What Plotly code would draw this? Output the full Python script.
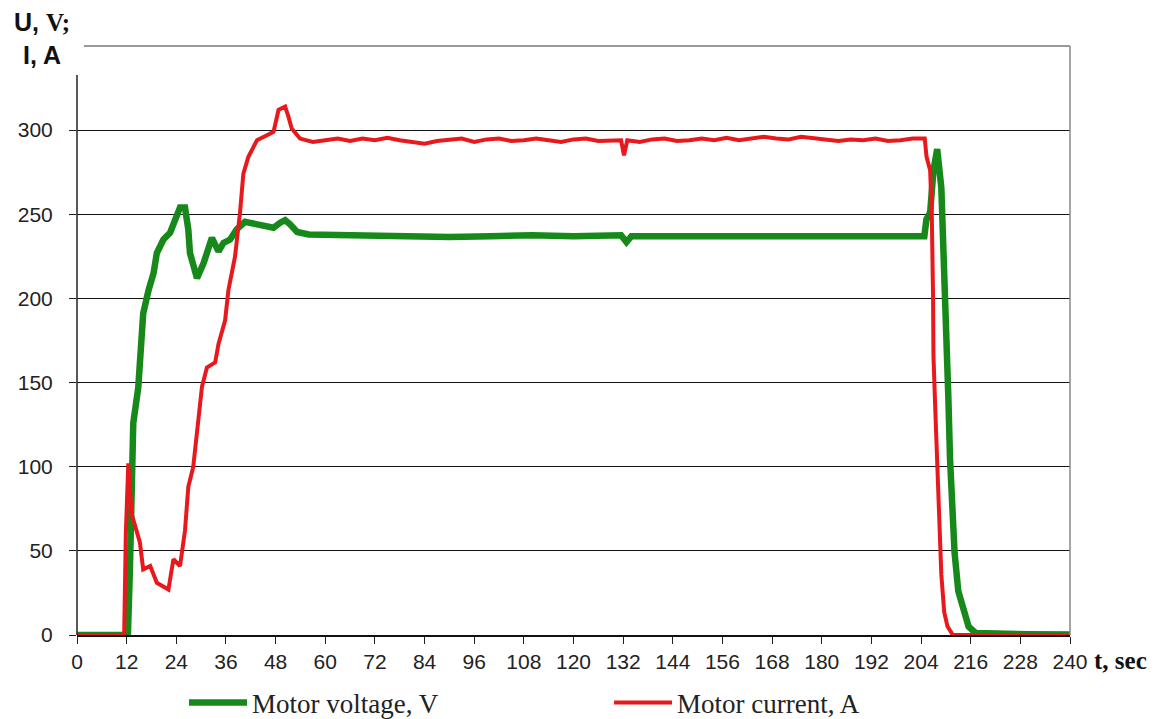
import plotly.graph_objects as go

# ---- data ----
t_voltage = [0, 12.3, 12.8, 13.6, 14.8, 15.6, 16.0, 17.3, 18.5, 19.3, 20.9, 22.5, 23.7, 24.9, 26.1,
             26.9, 27.3, 29.0, 30.6, 32.6, 34.2, 35.4, 37.0, 38.6, 40.6, 43, 45, 47.5, 49.1, 50.3,
             51.5, 53.2, 56, 61.2, 70, 80, 90, 100, 110, 120, 128, 131.5, 132.8, 134, 140, 150,
             160, 170, 180, 190, 200, 204.8, 205.3, 206.2, 207.0, 207.9, 208.9, 209.4, 209.8,
             210.3, 210.6, 211.0, 211.7, 212.1, 213.0, 214.0, 215.5, 217.2, 222, 230, 240]
voltage = [0, 0, 40, 126, 147, 171, 191, 205, 215, 227, 235, 239, 248, 254, 254,
           241, 227, 212, 221, 236, 228, 233, 235, 241, 245.5, 244, 243, 242, 245, 246.5,
           244, 239.5, 238, 237.7, 237.5, 237, 236.5, 237, 237.5, 237, 237.5, 237.5, 233.5, 237, 237, 237,
           237.5, 237, 237, 237, 237, 237, 247, 251, 276, 288.7, 265.8, 234.7, 203,
           172, 141, 105, 68, 49, 26, 18, 5, 1.2, 0.8, 0.5, 0.3]

t_current = [0, 11.4, 11.8, 12.4, 13.2, 14.4, 15.2, 16.0, 17.7, 19.3, 22.1, 23.3, 24.9, 26.1,
             26.9, 28.1, 29.0, 30.2, 31.4, 33.4, 34.2, 35.8, 36.6, 38.2, 39.4, 40.2, 41.4, 43.5,
             45.9, 47.5, 48.7, 50.3, 51.1, 51.9, 53.9,
             57, 60, 63, 66, 69, 72, 75, 78, 81, 84, 87, 90, 93, 96, 99, 102, 105, 108, 111,
             114, 117, 120, 123, 126, 129, 131.5, 132.2, 133, 136, 139, 142, 145, 148, 151,
             154, 157, 160, 163, 166, 169, 172, 175, 178, 181, 184, 187, 190, 193, 196, 199,
             202, 204.9, 205.3, 206.2, 206.6, 206.9, 207.0, 207.5, 207.9, 208.3, 208.9, 209.6,
             210.4, 211.7, 240]
current = [0, 0, 60, 102, 72, 62, 55, 39, 41, 31, 27, 45, 41, 62,
           88, 100, 122, 147.5, 159, 162, 173, 187, 205, 225, 251, 274, 284, 294,
           297, 299, 312, 314, 308, 301, 295,
           293, 294, 295, 293.5, 295, 294, 295.5, 294, 293, 292, 293.5, 294, 295, 293, 294.5,
           295, 293.5, 294, 295, 294, 293, 294.5, 295, 293.5, 294, 294, 285, 294, 293, 294.5,
           295, 293.5, 294, 295, 294, 295.5, 294, 295, 296, 295, 294.5, 296, 295, 294, 293.5,
           294.5, 294, 295, 293.5, 294, 295, 295, 284.6, 276, 249, 201, 166, 130, 99, 68, 36,
           13.6, 5, 0, 0]

x_ticks = list(range(0, 241, 12))
y_ticks = [0, 50, 100, 150, 200, 250, 300]

GREEN = "#17891a"
RED = "#e8191c"
FONT = "Liberation Sans, Arial, sans-serif"
SERIF = "Liberation Serif, Times New Roman, serif"

fig = go.Figure()
fig.add_trace(go.Scatter(x=t_voltage, y=voltage, mode="lines", name="Motor voltage, V",
                         line=dict(color=GREEN, width=6.5)))
fig.add_trace(go.Scatter(x=t_current, y=current, mode="lines", name="Motor current, A",
                         line=dict(color=RED, width=4)))

W, H = 1163, 719
OFF = 8  # page body margin
# target screen positions of plot area
SL, ST, SR, SB = 77, 46, 1070, 635
L, T = SL - OFF, ST - OFF
pw, ph = SR - SL, SB - ST
R, B = W - L - pw, H - T - ph

def px(x):
    return (x - SL) / pw

def py(y):
    return (SB - y) / ph

fig.update_layout(
    width=W, height=H,
    margin=dict(l=L, r=R, t=T, b=B, autoexpand=False),
    paper_bgcolor="white", plot_bgcolor="white",
    showlegend=True,
    legend=dict(orientation="h", x=px(184), xanchor="left",
                y=py(703), yanchor="middle",
                font=dict(family=SERIF, size=27, color="#222"),
                entrywidth=352, entrywidthmode="pixels", itemwidth=58,
                bgcolor="rgba(0,0,0,0)"),
    xaxis=dict(range=[0, 240], tickvals=x_ticks, ticktext=[str(v) for v in x_ticks],
               ticks="outside", ticklen=7, tickcolor="#222", showgrid=False, zeroline=False,
               showline=True, linecolor="#111", linewidth=1.5, automargin=False,
               tickfont=dict(family=FONT, size=21, color="#222")),
    yaxis=dict(range=[0, 350], tickvals=y_ticks, ticktext=[str(v) for v in y_ticks],
               ticks="outside", ticklen=7, tickcolor="#222", showgrid=True, gridcolor="#111",
               gridwidth=1.2, zeroline=False, showline=False, automargin=False,
               ticklabelstandoff=12,
               tickfont=dict(family=FONT, size=21, color="#222")),
)

# frame: left axis (shortened), top and right borders
fig.add_shape(type="line", xref="paper", yref="paper", x0=0, x1=0, y0=0, y1=py(75),
              line=dict(color="#222", width=1.5), layer="above")
fig.add_shape(type="line", xref="paper", yref="paper", x0=px(84), x1=1, y0=1, y1=1,
              line=dict(color="#777", width=1.5), layer="above")
fig.add_shape(type="line", xref="paper", yref="paper", x0=1, x1=1, y0=0, y1=1,
              line=dict(color="#888", width=1.5), layer="above")

# axis titles
fig.add_annotation(xref="paper", yref="paper", x=px(42), y=py(22), xanchor="center", yanchor="middle",
                   showarrow=False,
                   text="<b>U, </b><span style='font-family:Liberation Serif'><b>V;</b></span>",
                   font=dict(family=FONT, size=25, color="#111"))
fig.add_annotation(xref="paper", yref="paper", x=px(42), y=py(55), xanchor="center", yanchor="middle",
                   showarrow=False, text="<b>I, A</b>",
                   font=dict(family=FONT, size=25, color="#111"))
fig.add_annotation(xref="paper", yref="paper", x=px(1092), y=py(660), xanchor="left", yanchor="middle",
                   showarrow=False, text="<b>t, sec</b>",
                   font=dict(family=SERIF, size=25, color="#111"))

fig.write_html("out.html")
